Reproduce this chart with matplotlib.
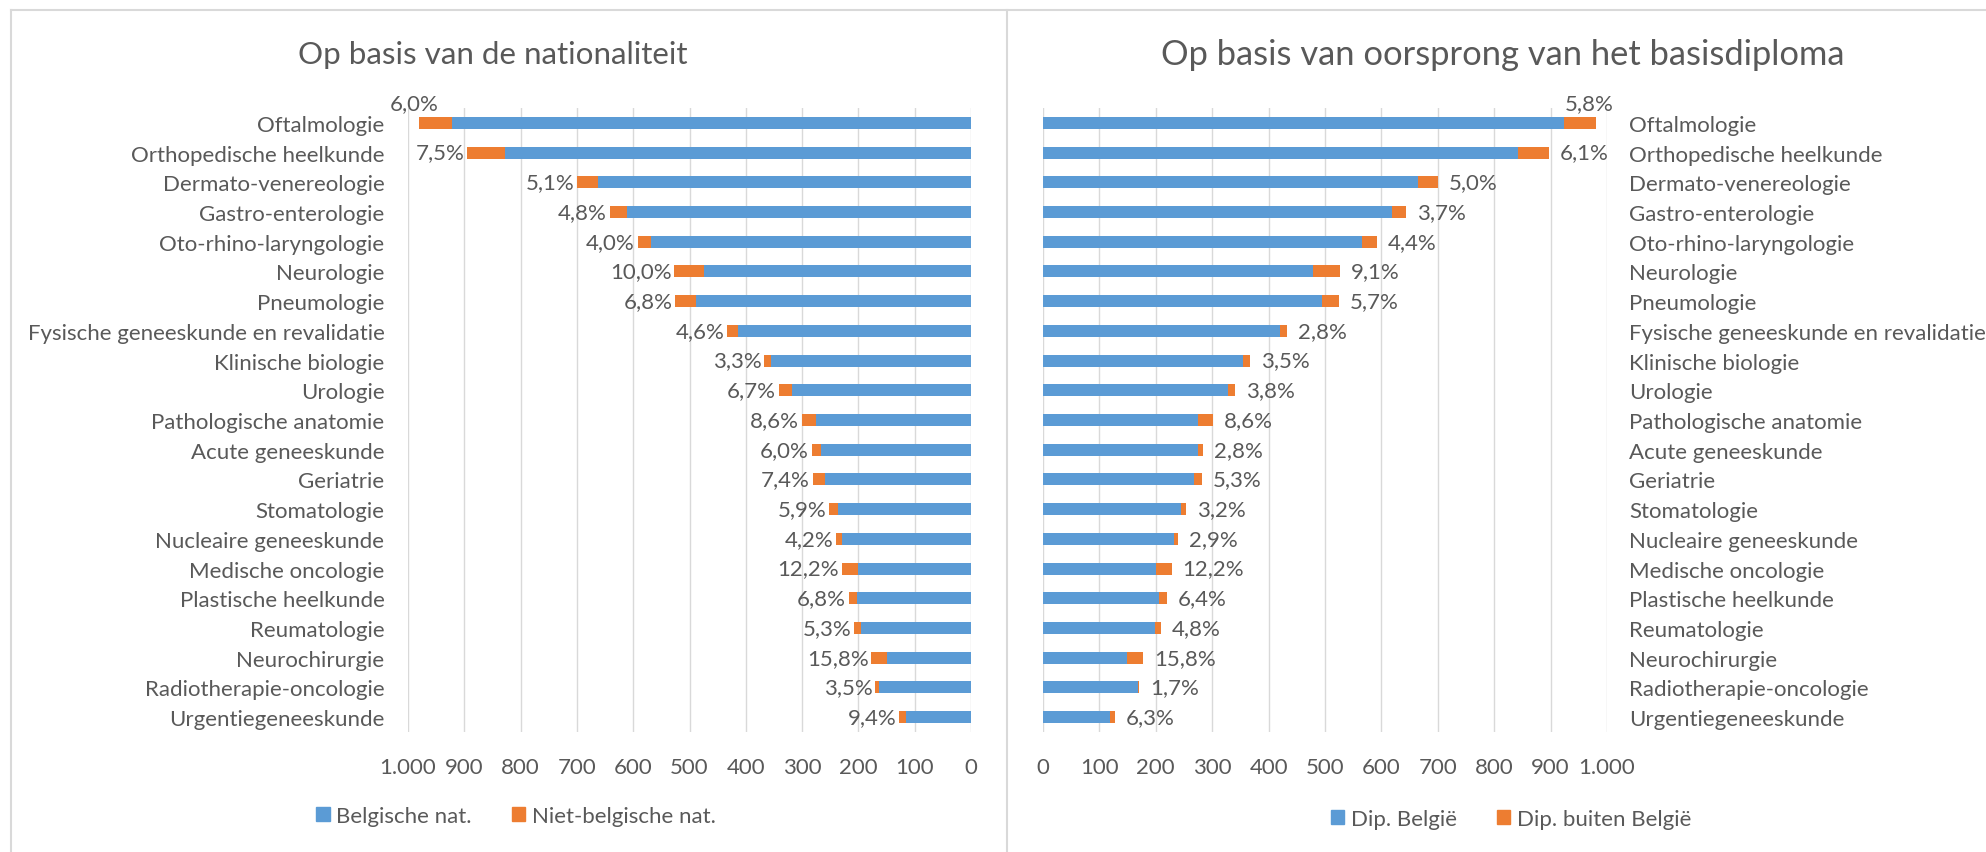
import numpy as np
import matplotlib.pyplot as plt
from matplotlib.lines import Line2D
from matplotlib.patches import Patch
from matplotlib.ticker import FuncFormatter

plt.rcParams['font.family'] = ['Lato', 'DejaVu Sans']

# Data (number of physicians per specialty)
categories = ["Oftalmologie", "Orthopedische heelkunde", "Dermato-venereologie",
              "Gastro-enterologie", "Oto-rhino-laryngologie", "Neurologie", "Pneumologie",
              "Fysische geneeskunde en revalidatie", "Klinische biologie", "Urologie",
              "Pathologische anatomie", "Acute geneeskunde", "Geriatrie", "Stomatologie",
              "Nucleaire geneeskunde", "Medische oncologie", "Plastische heelkunde",
              "Reumatologie", "Neurochirurgie", "Radiotherapie-oncologie", "Urgentiegeneeskunde"]

belg_nat = [922, 828, 663, 611, 568, 474, 489, 413, 355, 318, 275,
            266, 260, 237, 229, 201, 202, 196, 149, 164, 115]
niet_belg_nat = [59, 67, 36, 31, 24, 53, 36, 20, 12, 23, 26,
                 17, 21, 15, 10, 28, 15, 11, 28, 6, 12]
nat_pct = ["6,0%", "7,5%", "5,1%", "4,8%", "4,0%", "10,0%", "6,8%", "4,6%", "3,3%", "6,7%", "8,6%",
           "6,0%", "7,4%", "5,9%", "4,2%", "12,2%", "6,8%", "5,3%", "15,8%", "3,5%", "9,4%"]

dip_belgie = [923, 842, 665, 619, 566, 479, 495, 421, 354, 328, 275,
              275, 267, 245, 232, 200, 205, 199, 149, 168, 119]
dip_buiten = [57, 55, 35, 24, 26, 48, 30, 12, 13, 13, 26,
              8, 15, 8, 7, 28, 14, 10, 28, 3, 8]
dip_pct = ["5,8%", "6,1%", "5,0%", "3,7%", "4,4%", "9,1%", "5,7%", "2,8%", "3,5%", "3,8%", "8,6%",
           "2,8%", "5,3%", "3,2%", "2,9%", "12,2%", "6,4%", "4,8%", "15,8%", "1,7%", "6,3%"]

# Office colours
blue = "#5B9BD5"
orange = "#ED7D31"
txt = "#595959"
grid = "#D9D9D9"
fs = 16

W, H = 1986, 853
fig = plt.figure(figsize=(W / 100, H / 100), dpi=100)

def thousands(v, pos):
    return "{:,.0f}".format(v).replace(",", ".")

def style_axis(ax):
    ax.set_xlim(0, 1000)
    ax.set_xticks(np.arange(0, 1001, 100))
    ax.xaxis.set_major_formatter(FuncFormatter(thousands))
    ax.set_ylim(len(categories) - 0.5, -0.5)
    ax.set_yticks(np.arange(len(categories)))
    ax.set_yticklabels(categories)
    ax.grid(axis='x', color=grid, linewidth=1)
    ax.set_axisbelow(True)
    for s in ax.spines.values():
        s.set_visible(False)
    ax.tick_params(length=0, colors=txt, labelsize=fs)
    ax.tick_params(axis='x', pad=18)

y = np.arange(len(categories))
bh = 0.4

# Left panel: by nationality (reversed x axis)
ax1 = fig.add_axes([408 / W, 1 - 733 / H, 563 / W, 624 / H])
ax1.barh(y, belg_nat, height=bh, color=blue)
ax1.barh(y, niet_belg_nat, left=belg_nat, height=bh, color=orange)
style_axis(ax1)
ax1.invert_xaxis()
ax1.tick_params(axis='y', pad=17)
tot1 = np.array(belg_nat) + np.array(niet_belg_nat)
for i, lab in enumerate(nat_pct):
    if i == 0:
        ax1.annotate(lab, (tot1[i], i), xytext=(-3, 14), textcoords='offset points',
                     ha='center', va='center', color=txt, fontsize=fs)
    else:
        ax1.annotate(lab, (tot1[i], i), xytext=(-2, 0), textcoords='offset points',
                     ha='right', va='center', color=txt, fontsize=fs)

# Right panel: by origin of the basic diploma
ax2 = fig.add_axes([1043 / W, 1 - 733 / H, 564 / W, 624 / H])
ax2.barh(y, dip_belgie, height=bh, color=blue)
ax2.barh(y, dip_buiten, left=dip_belgie, height=bh, color=orange)
style_axis(ax2)
ax2.yaxis.tick_right()
ax2.tick_params(axis='y', pad=16)
for t in ax2.get_yticklabels():
    t.set_ha('left')
tot2 = np.array(dip_belgie) + np.array(dip_buiten)
for i, lab in enumerate(dip_pct):
    if i == 0:
        ax2.annotate(lab, (tot2[i], i), xytext=(-5, 14), textcoords='offset points',
                     ha='center', va='center', color=txt, fontsize=fs)
    else:
        ax2.annotate(lab, (tot2[i], i), xytext=(8, 0), textcoords='offset points',
                     ha='left', va='center', color=txt, fontsize=fs)

# Titles
fig.text(493 / W, 1 - 55 / H, "Op basis van de nationaliteit", ha='center', va='center',
         color=txt, fontsize=22.6)
fig.text(1503 / W, 1 - 55 / H, "Op basis van oorsprong van het basisdiploma", ha='center',
         va='center', color=txt, fontsize=24.8)

# Legends
leg_kw = dict(loc='center', ncol=2, frameon=False, fontsize=fs, labelcolor=txt,
              handlelength=0.6, handleheight=0.6, handletextpad=0.3, columnspacing=1.8)
fig.legend([Patch(color=blue), Patch(color=orange)], ["Belgische nat.", "Niet-belgische nat."],
           bbox_to_anchor=(516 / W, 1 - 817 / H), **leg_kw)
fig.legend([Patch(color=blue), Patch(color=orange)], ["Dip. België", "Dip. buiten België"],
           bbox_to_anchor=(1511 / W, 1 - 820 / H), **leg_kw)

# Chart area borders
bc = "#D9D9D9"
fig.add_artist(Line2D([11 / W, 1], [1 - 11 / H, 1 - 11 / H], color=bc, lw=1.5, transform=fig.transFigure))
fig.add_artist(Line2D([11 / W, 11 / W], [0, 1 - 11 / H], color=bc, lw=1.5, transform=fig.transFigure))
fig.add_artist(Line2D([1007 / W, 1007 / W], [0, 1 - 11 / H], color=bc, lw=1.5, transform=fig.transFigure))

fig.savefig("out.png", dpi=100)
